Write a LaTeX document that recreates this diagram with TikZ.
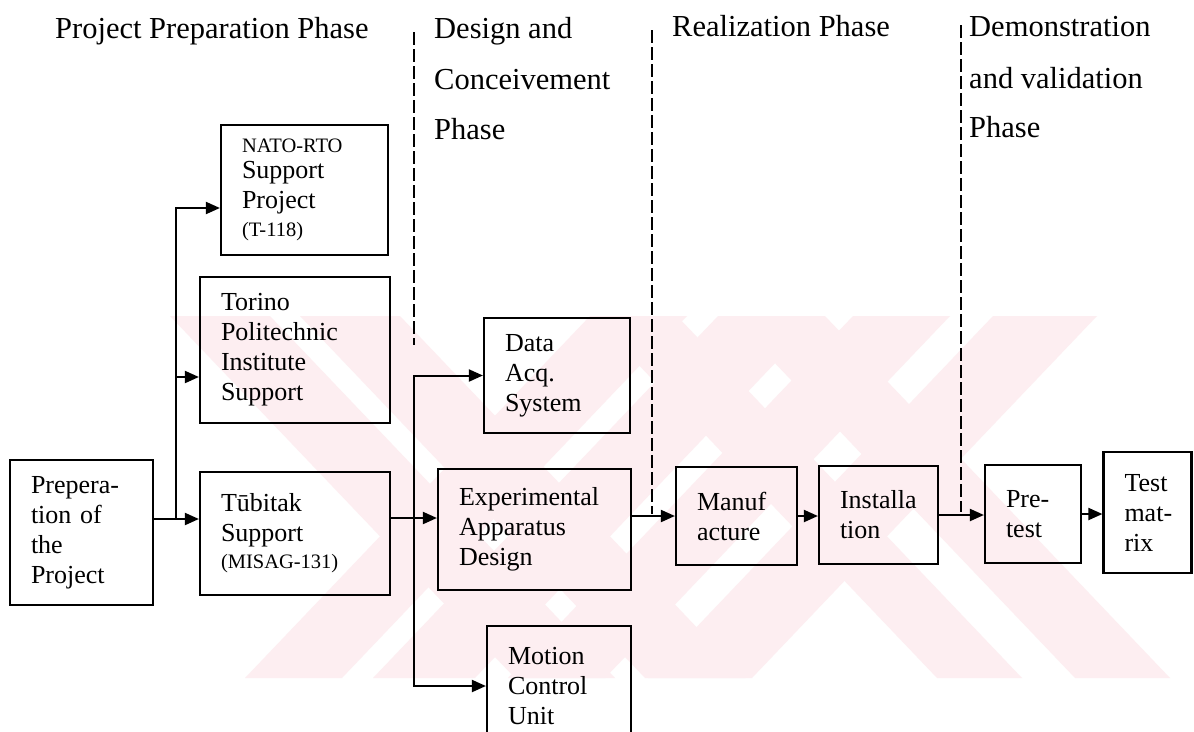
\documentclass[tikz,border=0pt]{standalone}
\usepackage{fontspec}
\setmainfont{Liberation Serif}
\usetikzlibrary{arrows.meta,calc}
\hyphenpenalty=10000
\exhyphenpenalty=10000
\definecolor{wmpink}{RGB}{253,238,241}
\begin{document}
\begin{tikzpicture}[x=1pt,y=-1pt,
  box/.style={draw, line width=2.2pt, rectangle, inner xsep=21pt, inner ysep=0pt,
              align=left, font=\fontsize{26}{30}\selectfont},
  head/.style={anchor=base west, inner sep=0pt, font=\fontsize{30.5}{35}\selectfont},
  arr/.style={-{Triangle[length=14pt,width=12pt]}, line width=2pt},
  phaseline/.style={line width=1.9pt, dash pattern=on 13pt off 4pt},
  wm/.style={fill=wmpink, draw=none}]
\clip (0,0) rectangle (1194,731);
\fill[white] (0,0) rectangle (1194,731);
% watermark
\begin{scope}
\clip (170,316) rectangle (1180,678);
\foreach \a/\b in {590/687, 718/820, 853/950, 993/1097}{
  \fill[wm] (\a,316) -- (\b,316) -- (\b-345,678) -- (\a-345,678) -- cycle;}
\foreach \a/\b in {170/270, 300/400, 592/677, 730/825}{
  \fill[wm] (\a,316) -- (\b,316) -- (\b+345,678) -- (\a+345,678) -- cycle;}
\end{scope}
% headings
\node[head] (h1) at (55,38) {Project Preparation Phase};
\node[head] (h2a) at (434,38) {Design and};
\node[head] (h2b) at (434,89) {Conceivement};
\node[head] (h2c) at (434,139) {Phase};
\node[head] (h3) at (672,36) {Realization Phase};
\node[head] (h4a) at (969,36) {Demonstration};
\node[head] (h4b) at (969,88) {and validation};
\node[head] (h4c) at (969,137) {Phase};
% phase separators
\coordinate (d1t) at (414,32);  \coordinate (d1b) at (414,345);
\coordinate (d2t) at (652,30);  \coordinate (d2b) at (652,514);
\coordinate (d3t) at (961,25);  \coordinate (d3b) at (961,512);
\draw[phaseline] (d1t) -- (d1b);
\draw[phaseline] (d2t) -- (d2b);
\draw[phaseline] (d3t) -- (d3b);
% boxes
\node[box, text width=101pt, minimum height=145pt] (prep) at (81.5,532.5)
  {Prepera-\\tion of\\the\\Project};
\node[box, text width=125pt, minimum height=130pt] (nato) at (304.5,190)
  {{\fontsize{20.5}{24}\selectfont NATO-RTO}\\[-4pt]Support\\Project\\[-2pt]{\fontsize{20.5}{24}\selectfont (T-118)}};
\node[box, text width=148pt, minimum height=146pt] (torino) at (295,350)
  {Torino\\Politechnic\\Institute\\Support};
\node[box, text width=148pt, minimum height=123pt] (tub) at (295,533.5)
  {Tūbitak\\Support\\[-3pt]{\fontsize{20.5}{24}\selectfont (MISAG-131)}};
\node[box, text width=104pt, minimum height=115pt] (data) at (557,375.5)
  {Data\\Acq.\\System};
\node[box, text width=151pt, minimum height=121pt] (exp) at (534.5,529.5)
  {Experimental\\Apparatus\\Design};
\node[box, text width=102pt, minimum height=120pt] (motion) at (559,686)
  {Motion\\Control\\Unit};
\node[box, text width=79pt, minimum height=98pt] (manuf) at (736.5,516)
  {Manuf\\acture};
\node[box, text width=77pt, minimum height=98pt] (inst) at (878.5,515)
  {Installa\\tion};
\node[box, text width=54pt, minimum height=98pt] (pre) at (1033,514)
  {Pre-\\test};
\node[box, text width=46pt, minimum height=121pt] (test) at (1147.5,512.5)
  {Test\\mat-\\rix};
% connectors
\coordinate (row) at (0,519);
\coordinate (j1) at (176,519);
\coordinate (j2) at (414,518);
\draw[arr] (prep.east |- row) -- (tub.west |- row);
\draw[arr] (j1) |- ([yshift=-18pt]nato.west);
\draw[arr] (j1) |- ([yshift=-27pt]torino.west);
\draw[arr] (tub.east |- j2) -- (exp.west |- j2);
\draw[arr] (j2) |- (data.west);
\draw[arr] (j2) |- (motion.west);
\draw[arr] (exp.east |- manuf.west) -- (manuf.west);
\draw[arr] (manuf.east) -- (manuf.east -| inst.west);
\draw[arr] (inst.east) -- (inst.east -| pre.west);
\draw[arr] (pre.east) -- (pre.east -| test.west);
\end{tikzpicture}
\end{document}
